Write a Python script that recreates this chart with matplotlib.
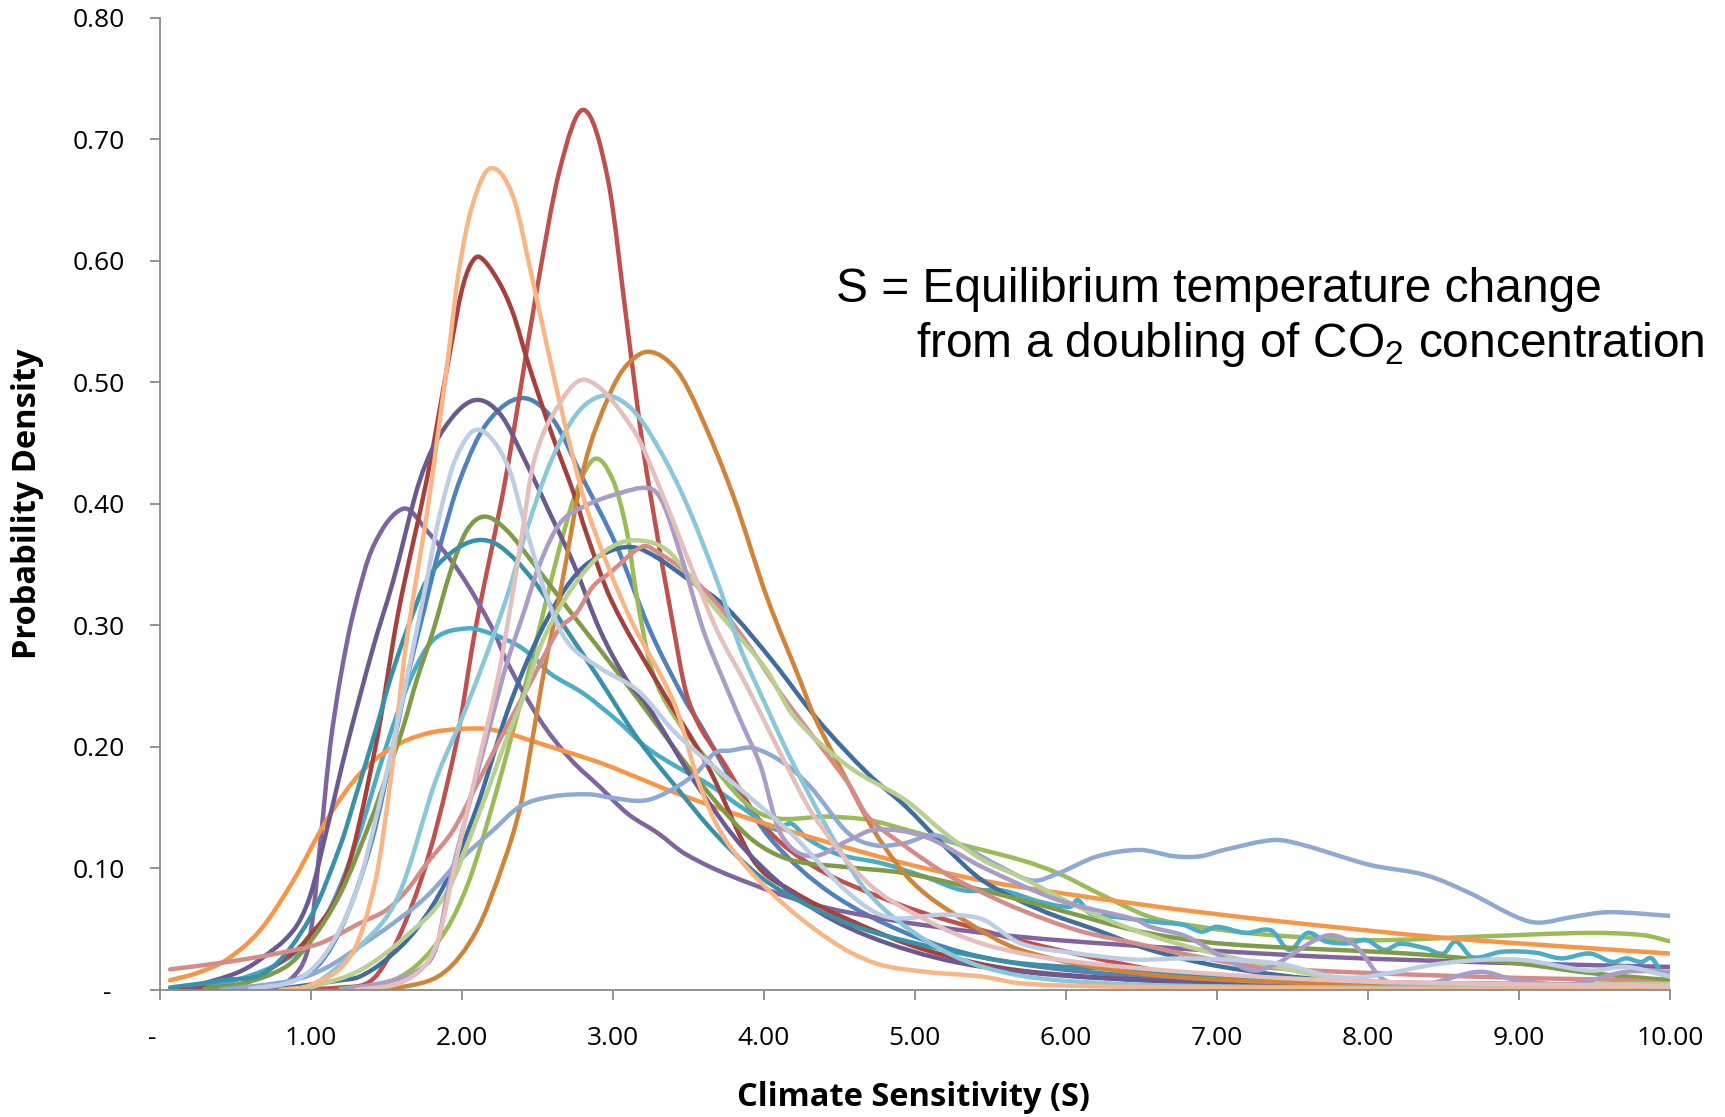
import numpy as np
import matplotlib
matplotlib.use("Agg")
import matplotlib.pyplot as plt
from matplotlib.path import Path
from matplotlib.patches import PathPatch

# ---------------------------------------------------------------------------
# Probability density curves of climate sensitivity (S, in degrees C)
# ---------------------------------------------------------------------------
red_x = [0.6, 1.2, 1.45, 1.73, 1.96, 2.09, 2.29, 2.49, 2.65, 2.81, 2.97, 3.10, 3.20, 3.29, 3.37,
         3.50, 3.75, 4.01, 4.34, 4.80, 5.20, 5.95, 6.89, 8.0, 9.0, 10.0]
red_y = [0.0, 0.002, 0.014, 0.09, 0.20, 0.296, 0.42, 0.57, 0.675, 0.724, 0.666, 0.543, 0.447, 0.378,
         0.321, 0.239, 0.184, 0.134, 0.101, 0.075, 0.058, 0.033, 0.011, 0.006, 0.004, 0.003]

peach_x = [0.8, 1.02, 1.275, 1.43, 1.53, 1.63, 1.78, 1.91, 1.98, 2.07, 2.19, 2.34, 2.47, 2.59, 2.72,
           2.84, 3.10, 3.41, 3.58, 3.75, 4.05, 4.44, 4.74, 5.07, 5.45, 5.70, 6.2, 7.0, 8.0, 9.0, 10.0]
peach_y = [0.0, 0.005, 0.03, 0.09, 0.173, 0.282, 0.40, 0.52, 0.59, 0.645, 0.676, 0.653, 0.584, 0.516,
           0.447, 0.392, 0.31, 0.235, 0.167, 0.123, 0.08, 0.041, 0.022, 0.015, 0.011, 0.0055, 0.003,
           0.002, 0.001, 0.001, 0.001]

darkred_x = [0.1, 0.57, 0.82, 0.97, 1.22, 1.43, 1.58, 1.77, 1.85, 1.93, 2.0, 2.06, 2.12, 2.24, 2.34,
             2.44, 2.59, 2.75, 2.82, 2.99, 3.30, 3.63, 3.93, 4.18, 4.56, 5.07, 5.70, 6.89, 8.0, 9.0,
             10.0]
darkred_y = [0.0, 0.006, 0.025, 0.041, 0.09, 0.20, 0.31, 0.42, 0.474, 0.53, 0.575, 0.597, 0.603, 0.584,
             0.557, 0.516, 0.46, 0.406, 0.378, 0.321, 0.252, 0.184, 0.107, 0.082, 0.058, 0.033, 0.016,
             0.006, 0.003, 0.002, 0.001]

amber_x = [1.4, 1.592, 1.879, 2.10, 2.276, 2.387, 2.46, 2.55, 2.65, 2.81, 2.98, 3.10, 3.247, 3.424,
           3.578, 3.80, 4.02, 4.24, 4.335, 4.54, 4.74, 4.99, 5.32, 5.70, 6.46, 7.5, 9.0, 10.0]
amber_y = [0.0, 0.002, 0.014, 0.049, 0.104, 0.15, 0.20, 0.265, 0.325, 0.43, 0.49, 0.515, 0.525, 0.51,
           0.474, 0.406, 0.3235, 0.255, 0.225, 0.175, 0.129, 0.088, 0.058, 0.033, 0.014, 0.006, 0.002,
           0.001]

pink_x = [1.3, 1.63, 1.83, 1.958, 2.085, 2.237, 2.33, 2.40, 2.475, 2.607, 2.817, 3.137, 3.335, 3.51,
          3.69, 3.88, 4.13, 4.335, 4.69, 5.07, 5.45, 5.95, 6.89, 8.0, 10.0]
pink_y = [0.0, 0.008, 0.036, 0.104, 0.173, 0.255, 0.32, 0.375, 0.433, 0.474, 0.502, 0.461, 0.406,
          0.351, 0.296, 0.252, 0.19, 0.1426, 0.088, 0.058, 0.038, 0.025, 0.014, 0.007, 0.003]

skyblue_x = [0.8, 1.0, 1.325, 1.58, 1.83, 1.99, 2.144, 2.30, 2.43, 2.585, 2.762, 2.938, 3.10, 3.247,
             3.468, 3.69, 3.843, 4.0, 4.18, 4.44, 4.69, 5.07, 5.45, 5.95, 7.0, 10.0]
skyblue_y = [0.0, 0.003, 0.036, 0.077, 0.173, 0.22, 0.269, 0.3235, 0.378, 0.433, 0.474, 0.489, 0.481,
             0.458, 0.406, 0.337, 0.282, 0.238, 0.19, 0.129, 0.08, 0.041, 0.019, 0.008, 0.003, 0.001]

blue_x = [0.6, 1.0, 1.2, 1.4, 1.57, 1.637, 1.746, 1.857, 1.99, 2.166, 2.398, 2.607, 2.806, 3.027,
          3.247, 3.468, 3.60, 3.80, 4.055, 4.44, 4.94, 5.45, 6.21, 7.5, 10.0]
blue_y = [0.0, 0.015, 0.05, 0.12, 0.214, 0.255, 0.31, 0.365, 0.42, 0.466, 0.487, 0.469, 0.42, 0.365,
          0.296, 0.241, 0.214, 0.17, 0.123, 0.08, 0.047, 0.027, 0.014, 0.005, 0.002]

plum_x = [0.2, 0.51, 0.665, 0.886, 0.996, 1.107, 1.239, 1.415, 1.548, 1.725, 1.879, 2.077, 2.254,
          2.43, 2.585, 2.74, 2.916, 3.093, 3.225, 3.55, 3.88, 4.31, 4.82, 5.45, 6.5, 8.0, 10.0]
plum_y = [0.002, 0.014, 0.025, 0.049, 0.077, 0.1316, 0.20, 0.282, 0.337, 0.42, 0.461, 0.485, 0.474,
          0.433, 0.392, 0.351, 0.296, 0.255, 0.235, 0.17, 0.115, 0.0685, 0.0384, 0.019, 0.008, 0.004,
          0.002]

mist_x = [0.6, 0.9, 1.1, 1.3, 1.45, 1.59, 1.68, 1.769, 1.857, 1.967, 2.11, 2.30, 2.43, 2.563, 2.696,
          2.916, 3.17, 3.42, 3.80, 4.18, 4.56, 4.82, 5.2, 5.45, 5.70, 6.08, 6.46, 6.8, 7.4, 7.77, 8.0,
          8.5, 8.985, 9.47, 9.71, 10.0]
mist_y = [0.001, 0.008, 0.03, 0.08, 0.15, 0.228, 0.282, 0.337, 0.392, 0.439, 0.461, 0.433, 0.378,
          0.3235, 0.287, 0.265, 0.246, 0.211, 0.17, 0.129, 0.08, 0.06, 0.062, 0.058, 0.0384, 0.030,
          0.025, 0.026, 0.022, 0.011, 0.011, 0.022, 0.025, 0.016, 0.019, 0.011]

green_x = [1.2, 1.5, 1.7, 1.9, 2.05, 2.2, 2.342, 2.43, 2.54, 2.651, 2.762, 2.883, 3.0, 3.093, 3.16,
           3.247, 3.36, 3.625, 3.98, 4.44, 4.69, 4.94, 5.2, 5.70, 5.95, 6.21, 6.56, 6.89, 7.28, 8.01,
           8.74, 9.47, 9.83, 10.0]
green_y = [0.001, 0.006, 0.02, 0.05, 0.09, 0.15, 0.214, 0.255, 0.31, 0.365, 0.411, 0.437, 0.42, 0.378,
           0.3235, 0.269, 0.235, 0.19, 0.145, 0.1426, 0.14, 0.132, 0.123, 0.107, 0.096, 0.08, 0.060,
           0.052, 0.046, 0.041, 0.044, 0.047, 0.045, 0.040]

lilac_x = [1.2, 1.548, 1.746, 1.835, 1.923, 2.034, 2.21, 2.30, 2.41, 2.519, 2.651, 2.806, 3.027,
           3.247, 3.335, 3.468, 3.60, 3.733, 3.865, 3.98, 4.11, 4.31, 4.56, 4.74, 5.07, 5.45, 5.95,
           6.46, 6.56, 6.80, 7.04, 7.24, 7.40, 7.65, 7.77, 7.92, 8.11, 8.38, 8.74, 8.985, 9.35, 9.71,
           10.0]
lilac_y = [0.0, 0.008, 0.019, 0.036, 0.09, 0.145, 0.228, 0.269, 0.31, 0.351, 0.384, 0.3976, 0.408,
           0.4127, 0.40, 0.351, 0.296, 0.255, 0.2166, 0.184, 0.129, 0.11, 0.123, 0.132, 0.126, 0.101,
           0.074, 0.058, 0.052, 0.044, 0.027, 0.016, 0.022, 0.041, 0.045, 0.036, 0.008, 0.005, 0.015,
           0.008, 0.005, 0.015, 0.015]

purple_x = [0.5, 0.776, 0.886, 0.975, 1.018, 1.051, 1.084, 1.129, 1.195, 1.283, 1.415, 1.614, 1.769,
            1.99, 2.21, 2.30, 2.52, 2.72, 2.916, 3.10, 3.30, 3.48, 3.80, 4.31, 4.82, 5.45, 5.95, 6.89,
            7.77, 8.985, 10.0]
purple_y = [0.001, 0.003, 0.011, 0.030, 0.063, 0.104, 0.145, 0.20, 0.255, 0.31, 0.365, 0.396, 0.378,
            0.343, 0.296, 0.27, 0.222, 0.19, 0.167, 0.145, 0.129, 0.112, 0.093, 0.071, 0.058, 0.047,
            0.041, 0.033, 0.027, 0.022, 0.019]

olive_x = [0.3, 0.54, 0.835, 1.0, 1.2, 1.4, 1.5, 1.614, 1.703, 1.813, 1.923, 2.034, 2.155, 2.30, 2.475,
           2.696, 2.916, 3.17, 3.42, 3.676, 3.93, 4.18, 4.56, 4.94, 5.45, 5.95, 6.46, 6.89, 7.28, 8.26,
           8.985, 9.47, 10.0]
olive_y = [0.001, 0.005, 0.019, 0.04, 0.08, 0.14, 0.175, 0.2166, 0.255, 0.296, 0.343, 0.378, 0.3895,
           0.378, 0.351, 0.315, 0.28, 0.239, 0.197, 0.156, 0.123, 0.107, 0.101, 0.096, 0.082, 0.066,
           0.049, 0.04, 0.036, 0.030, 0.022, 0.014, 0.008]

teal_x = [0.07, 0.42, 0.72, 1.0, 1.2, 1.3, 1.438, 1.526, 1.637, 1.769, 1.923, 2.10, 2.254, 2.475,
          2.696, 2.916, 3.17, 3.42, 3.676, 3.98, 4.31, 4.69, 5.2, 5.70, 6.46, 6.89, 8.0, 10.0]
teal_y = [0.002, 0.008, 0.016, 0.06, 0.12, 0.16, 0.2166, 0.255, 0.296, 0.337, 0.359, 0.37, 0.365,
          0.337, 0.296, 0.255, 0.206, 0.167, 0.129, 0.093, 0.0685, 0.049, 0.033, 0.022, 0.016, 0.011,
          0.006, 0.003]

lime_x = [1.0, 1.325, 1.63, 1.9, 2.1, 2.32, 2.41, 2.519, 2.651, 2.806, 2.96, 3.137, 3.358, 3.578, 3.80,
          4.02, 4.2, 4.56, 4.94, 5.2, 5.45, 5.70, 6.08, 6.46, 6.89, 7.28, 7.89, 9.0, 10.0]
lime_y = [0.002, 0.016, 0.044, 0.08, 0.14, 0.214, 0.241, 0.282, 0.315, 0.343, 0.362, 0.37, 0.362,
          0.329, 0.296, 0.263, 0.225, 0.184, 0.156, 0.129, 0.107, 0.093, 0.0685, 0.049, 0.033, 0.022,
          0.008, 0.005, 0.005]

navy_x = [0.8, 1.2, 1.325, 1.5, 1.7, 1.9, 2.1, 2.30, 2.475, 2.651, 2.806, 3.0, 3.15, 3.29, 3.51, 3.75,
          4.056, 4.36, 4.69, 4.94, 5.2, 5.45, 5.83, 6.21, 6.56, 7.04, 7.77, 9.0, 10.0]
navy_y = [0.001, 0.008, 0.011, 0.025, 0.05, 0.09, 0.15, 0.228, 0.282, 0.3235, 0.348, 0.362, 0.364,
          0.356, 0.337, 0.315, 0.271, 0.222, 0.178, 0.151, 0.118, 0.09, 0.066, 0.049, 0.033, 0.019,
          0.008, 0.005, 0.004]

rose_x = [0.07, 0.445, 0.776, 1.063, 1.327, 1.504, 1.637, 1.769, 1.945, 2.085, 2.287, 2.465, 2.64,
          2.76, 2.87, 2.98, 3.20, 3.31, 3.468, 3.69, 3.91, 4.13, 4.56, 4.69, 4.94, 5.2, 5.45, 5.70,
          6.08, 6.46, 6.89, 7.28, 8.01, 8.985, 9.71, 10.0]
rose_y = [0.017, 0.023, 0.030, 0.0384, 0.055, 0.066, 0.082, 0.104, 0.1316, 0.165, 0.214, 0.255, 0.296,
          0.31, 0.332, 0.343, 0.365, 0.359, 0.3455, 0.318, 0.282, 0.241, 0.17, 0.1426, 0.118, 0.096,
          0.08, 0.066, 0.049, 0.0384, 0.027, 0.019, 0.014, 0.01, 0.008, 0.005]

aqua_x = [0.1, 0.5, 0.9, 1.1, 1.3, 1.5, 1.658, 1.813, 2.034, 2.188, 2.365, 2.475, 2.585, 2.806, 3.027,
          3.22, 3.42, 3.625, 3.88, 4.08, 4.18, 4.285, 4.485, 4.79, 5.07, 5.32, 5.575, 5.83, 6.03,
          6.08, 6.16, 6.34, 6.59, 6.78, 6.9, 7.0, 7.19, 7.36, 7.48, 7.60, 7.72, 7.87, 7.99, 8.11,
          8.21, 8.38, 8.50, 8.58, 8.69, 8.89, 9.11, 9.28, 9.47, 9.62, 9.71, 9.81, 9.88, 9.96, 10.0]
aqua_y = [0.001, 0.008, 0.03, 0.06, 0.12, 0.2, 0.255, 0.288, 0.2975, 0.2935, 0.284, 0.274, 0.2605,
          0.244, 0.222, 0.2, 0.184, 0.17, 0.148, 0.132, 0.137, 0.125, 0.112, 0.104, 0.093, 0.082,
          0.082, 0.0726, 0.0685, 0.074, 0.063, 0.060, 0.056, 0.0535, 0.048, 0.052, 0.047, 0.049,
          0.033, 0.047, 0.040, 0.0384, 0.041, 0.033, 0.038, 0.0344, 0.030, 0.040, 0.027, 0.0315,
          0.0307, 0.026, 0.030, 0.023, 0.026, 0.023, 0.026, 0.011, 0.011]

orange_x = [0.07, 0.25, 0.445, 0.665, 0.886, 1.107, 1.327, 1.548, 1.769, 1.99, 2.21, 2.59, 2.916,
            3.10, 3.42, 3.93, 4.44, 4.94, 5.45, 5.95, 6.46, 6.89, 7.53, 8.50, 9.47, 10.0]
orange_y = [0.008, 0.014, 0.025, 0.049, 0.09, 0.14, 0.178, 0.2, 0.211, 0.2147, 0.214, 0.2, 0.187,
            0.178, 0.162, 0.14, 0.121, 0.104, 0.09, 0.08, 0.071, 0.064, 0.055, 0.043, 0.0344, 0.030]

steel_x = [0.4, 0.886, 1.1, 1.327, 1.548, 1.769, 1.99, 2.21, 2.387, 2.59, 2.84, 3.0, 3.2, 3.35, 3.55,
           3.676, 3.78, 3.93, 4.13, 4.31, 4.56, 4.74, 4.94, 5.12, 5.32, 5.575, 5.78, 5.95, 6.21, 6.49,
           6.72, 6.89, 7.04, 7.38, 7.58, 8.01, 8.38, 8.67, 8.985, 9.13, 9.35, 9.59, 10.0]
steel_y = [0.0, 0.008, 0.018, 0.036, 0.055, 0.077, 0.107, 0.1316, 0.151, 0.159, 0.161, 0.158, 0.1557,
           0.162, 0.178, 0.195, 0.197, 0.199, 0.187, 0.167, 0.129, 0.119, 0.121, 0.1275, 0.118, 0.101,
           0.09, 0.096, 0.11, 0.1152, 0.11, 0.11, 0.115, 0.1234, 0.119, 0.103, 0.0946, 0.08, 0.060,
           0.0554, 0.060, 0.064, 0.061]

series = [
    (blue_x, blue_y, "#4F81BD"),
    (red_x, red_y, "#C0504D"),
    (green_x, green_y, "#9BBB59"),
    (purple_x, purple_y, "#8064A2"),
    (aqua_x, aqua_y, "#4BACC6"),
    (orange_x, orange_y, "#F79646"),
    (navy_x, navy_y, "#3E6D9E"),
    (darkred_x, darkred_y, "#A5403D"),
    (olive_x, olive_y, "#7F9B47"),
    (plum_x, plum_y, "#6A5A8F"),
    (teal_x, teal_y, "#3891A7"),
    (amber_x, amber_y, "#D0843A"),
    (steel_x, steel_y, "#8EAAD3"),
    (rose_x, rose_y, "#D58C89"),
    (lime_x, lime_y, "#B9D08F"),
    (lilac_x, lilac_y, "#A99CC7"),
    (skyblue_x, skyblue_y, "#8BC7DA"),
    (peach_x, peach_y, "#FAB584"),
    (mist_x, mist_y, "#BDCEE4"),
    (pink_x, pink_y, "#E5BFBE"),
]

x_ticks = [0, 1, 2, 3, 4, 5, 6, 7, 8, 9, 10]
x_tick_labels = ["-  ", "1.00", "2.00", "3.00", "4.00", "5.00", "6.00", "7.00", "8.00", "9.00", "10.00"]
y_ticks = [0.0, 0.1, 0.2, 0.3, 0.4, 0.5, 0.6, 0.7, 0.8]
y_tick_labels = ["-  ", "0.10", "0.20", "0.30", "0.40", "0.50", "0.60", "0.70", "0.80"]


def tangents(x, y):
    """Catmull-Rom style tangents (centred differences) for a smoothed line."""
    x = np.asarray(x, float)
    y = np.asarray(y, float)
    m = np.empty(len(x))
    m[1:-1] = (y[2:] - y[:-2]) / (x[2:] - x[:-2])
    m[0] = (y[1] - y[0]) / (x[1] - x[0])
    m[-1] = (y[-1] - y[-2]) / (x[-1] - x[-2])
    return m


def smooth_line(ax, xs, ys, color, lw=3.2):
    """Draw a smoothed line through the points as cubic Bezier segments."""
    x = np.asarray(xs, float)
    y = np.asarray(ys, float)
    m = tangents(x, y)
    verts = [(x[0], y[0])]
    codes = [Path.MOVETO]
    for i in range(len(x) - 1):
        h = x[i + 1] - x[i]
        c1 = max(y[i] + m[i] * h / 3, 0.0)
        c2 = max(y[i + 1] - m[i + 1] * h / 3, 0.0)
        verts += [(x[i] + h / 3, c1), (x[i + 1] - h / 3, c2), (x[i + 1], y[i + 1])]
        codes += [Path.CURVE4] * 3
    patch = PathPatch(Path(verts, codes), facecolor="none", edgecolor=color,
                      lw=lw, capstyle="round", joinstyle="round")
    ax.add_patch(patch)


W, H = 1725, 1117
fig = plt.figure(figsize=(W / 100, H / 100), dpi=100)
fig.patch.set_facecolor("white")

x0, x1, y0, y1 = 159.5, 1670.0, 990.0, 17.6
ax = fig.add_axes([x0 / W, 1 - y0 / H, (x1 - x0) / W, (y0 - y1) / H])

for xs, ys, col in series:
    smooth_line(ax, xs, ys, col)

ax.set_xlim(0, 10)
ax.set_ylim(0, 0.8)

axis_gray = "#8A8A8A"
for side in ("top", "right"):
    ax.spines[side].set_visible(False)
for side in ("left", "bottom"):
    ax.spines[side].set_color(axis_gray)
    ax.spines[side].set_linewidth(1.3)

ax.set_xticks(x_ticks)
ax.set_xticklabels(x_tick_labels)
ax.set_yticks(y_ticks)
ax.set_yticklabels(y_tick_labels)
ax.tick_params(axis="both", direction="out", length=7, width=1.3, color=axis_gray,
               labelsize=19, labelcolor="black")
ax.tick_params(axis="y", pad=18)
ax.tick_params(axis="x", pad=19)
for lab in ax.get_xticklabels() + ax.get_yticklabels():
    lab.set_family("Open Sans")

fig.text(27.5 / W, 1 - 504 / H, "Probability Density", rotation=90, ha="center", va="center",
         fontsize=23.5, fontweight="bold", family="Open Sans")
fig.text(913 / W, 1 - 1097 / H, "Climate Sensitivity (S)", ha="center", va="center",
         fontsize=23.5, fontweight="bold", family="Open Sans")

fig.text(836 / W, 1 - 301.5 / H, "S = Equilibrium temperature change", ha="left", va="baseline",
         fontsize=34.5, family="Liberation Sans")
fig.text(916.5 / W, 1 - 357.5 / H, r"from a doubling of CO$\mathregular{_2}$ concentration",
         ha="left", va="baseline", fontsize=34.5, family="Liberation Sans")

fig.savefig("out.png", dpi=100, facecolor="white")
